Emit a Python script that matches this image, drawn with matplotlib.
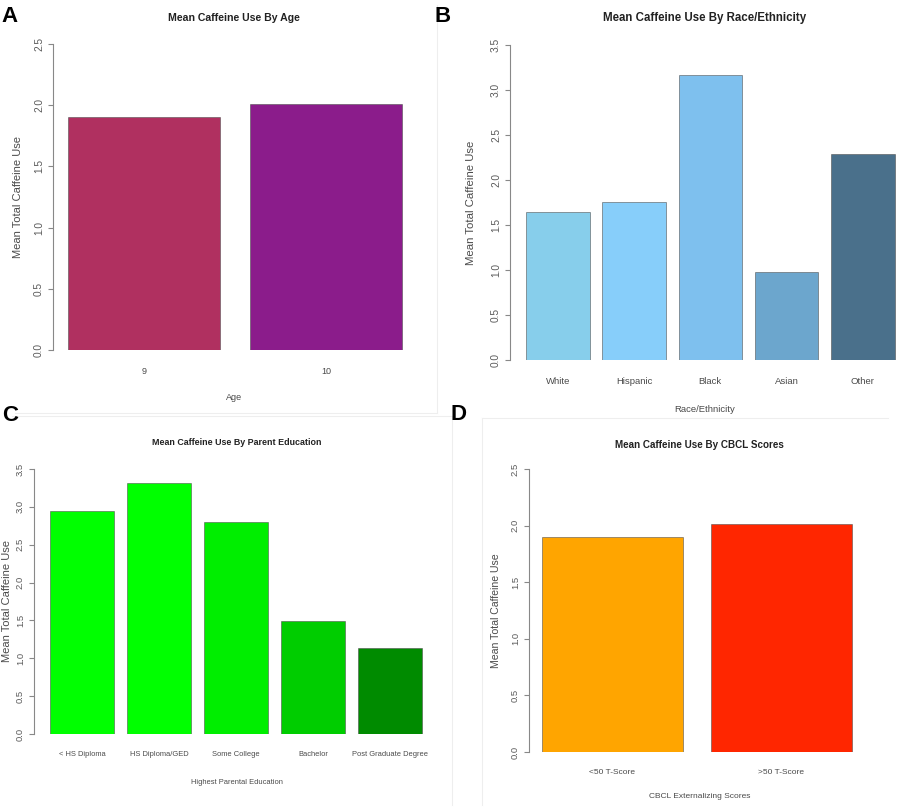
import matplotlib
matplotlib.use('Agg')
import matplotlib.pyplot as plt
from matplotlib.lines import Line2D
import numpy as np

# ---------------- data ----------------
age_cats = ['9', '10']
age_vals = [1.90, 2.01]
age_colors = ['#B03060', '#8B1C8B']

race_cats = ['White', 'Hispanic', 'Black', 'Asian', 'Other']
race_vals = [1.65, 1.76, 3.17, 0.98, 2.29]
race_colors = ['#87CEEB', '#87CEFA', '#7EC0EE', '#6CA6CD', '#4A708B']

edu_cats = ['< HS Diploma', 'HS Diploma/GED', 'Some College', 'Bachelor', 'Post Graduate Degree']
edu_vals = [2.94, 3.31, 2.80, 1.49, 1.13]
edu_colors = ['#00FF00', '#00FF00', '#00EE00', '#00CD00', '#008B00']

cbcl_cats = ['<50 T-Score', '>50 T-Score']
cbcl_vals = [1.90, 2.01]
cbcl_colors = ['#FFA500', '#FF2600']

# ---------------- figure ----------------
W, H = 900, 807
fig = plt.figure(figsize=(W / 100, H / 100), dpi=100)
fig.patch.set_facecolor('white')

FONT = ['Liberation Sans', 'DejaVu Sans']
TXT = '#4a4a4a'


def fx(px):
    return px / W


def fy(py):
    return 1 - py / H


def panel(layout, cats, vals, colors, ymax, title, xlabel, ylab_x,
          title_y, xlab_y, title_size=7.5, tick_size=6.5, xlab_size=6.5,
          ylab_size=8, ytick_size=7.3):
    axL, axR, yTop, yBot, bar0, step = layout
    unit = step / 1.2
    x0 = 0.2 - (bar0 - axL) / unit
    x1 = 0.2 + (axR - bar0) / unit
    ax = fig.add_axes([fx(axL), fy(yBot), (axR - axL) / W, (yBot - yTop) / H])
    pos = 0.7 + 1.2 * np.arange(len(vals))
    ax.bar(pos, vals, width=1.0, color=colors,
           edgecolor=(0.3, 0.3, 0.3, 0.55), linewidth=0.7)
    ax.set_xlim(x0, x1)
    ax.set_ylim(0, ymax)
    ticks = np.arange(0, ymax + 0.01, 0.5)
    ax.set_yticks(ticks)
    ax.set_yticklabels([f'{t:.1f}' for t in ticks], rotation=90, va='center',
                       family=FONT, fontsize=ytick_size, color='#5a5a5a')
    ax.set_xticks(pos)
    ax.set_xticklabels(cats, family=FONT, fontsize=tick_size, color=TXT)
    ax.tick_params(axis='x', length=0, pad=12)
    ax.tick_params(axis='y', length=3.5, width=0.8, color='#888888', pad=3)
    for s in ['top', 'right', 'bottom']:
        ax.spines[s].set_visible(False)
    ax.spines['left'].set_color('#888888')
    ax.spines['left'].set_linewidth(0.8)
    ax.spines['left'].set_bounds(0, ymax)
    ax.patch.set_alpha(0)
    cx = (axL + axR) / 2
    fig.text(fx(cx), fy(title_y), title, ha='center', va='center',
             family=FONT, fontweight='bold', fontsize=title_size, color='#222222')
    fig.text(fx(cx), fy(xlab_y), xlabel, ha='center', va='center',
             family=FONT, fontsize=xlab_size, color=TXT)
    fig.text(fx(ylab_x), fy((yTop + yBot) / 2), 'Mean Total Caffeine Use',
             ha='center', va='center', rotation=90, family=FONT,
             fontsize=ylab_size, color=TXT)
    return ax


# layout: axis x, right x, top(ymax) y, bottom(0) y, first bar left x, bar step (px)
panel((53, 415, 44, 350, 68, 182), age_cats, age_vals, age_colors, 2.5,
      'Mean Caffeine Use By Age', 'Age', 18, 18, 398,
      title_size=7.6, ylab_size=8)
panel((510, 900, 45, 360, 526, 76.25), race_cats, race_vals, race_colors, 3.5,
      'Mean Caffeine Use By Race/Ethnicity', 'Race/Ethnicity', 471, 18, 409,
      title_size=8.3, ylab_size=8.2, tick_size=6.8, xlab_size=6.8)
panel((34, 440, 469, 734, 50, 77), edu_cats, edu_vals, edu_colors, 3.5,
      'Mean Caffeine Use By Parent Education', 'Highest Parental Education', 7, 443, 782,
      title_size=6.4, tick_size=5.4, xlab_size=5.4, ylab_size=8, ytick_size=6.8)
panel((529, 870, 469, 752, 542, 169), cbcl_cats, cbcl_vals, cbcl_colors, 2.5,
      'Mean Caffeine Use By CBCL Scores', 'CBCL Externalizing Scores', 496, 445, 797,
      title_size=7.1, tick_size=6.0, xlab_size=6.0, ylab_size=7.6, ytick_size=6.8)

# faint panel borders
border = '#eeeeee'
for (xa, ya, xb, yb) in [(15, 413, 437, 413), (437, 5, 437, 413),
                         (12, 416, 452, 416), (452, 416, 452, 805),
                         (482, 418, 888, 418), (482, 418, 482, 805)]:
    fig.add_artist(Line2D([fx(xa), fx(xb)], [fy(ya), fy(yb)], color=border,
                          linewidth=0.8, transform=fig.transFigure))

# panel letters
for letter, px, py in [('A', 10, 16), ('B', 443, 16), ('C', 10, 416), ('D', 459, 414)]:
    fig.text(fx(px), fy(py), letter, ha='center', va='center', family=FONT,
             fontweight='bold', fontsize=16, color='black')

fig.savefig('out.png', dpi=100, facecolor='white')
